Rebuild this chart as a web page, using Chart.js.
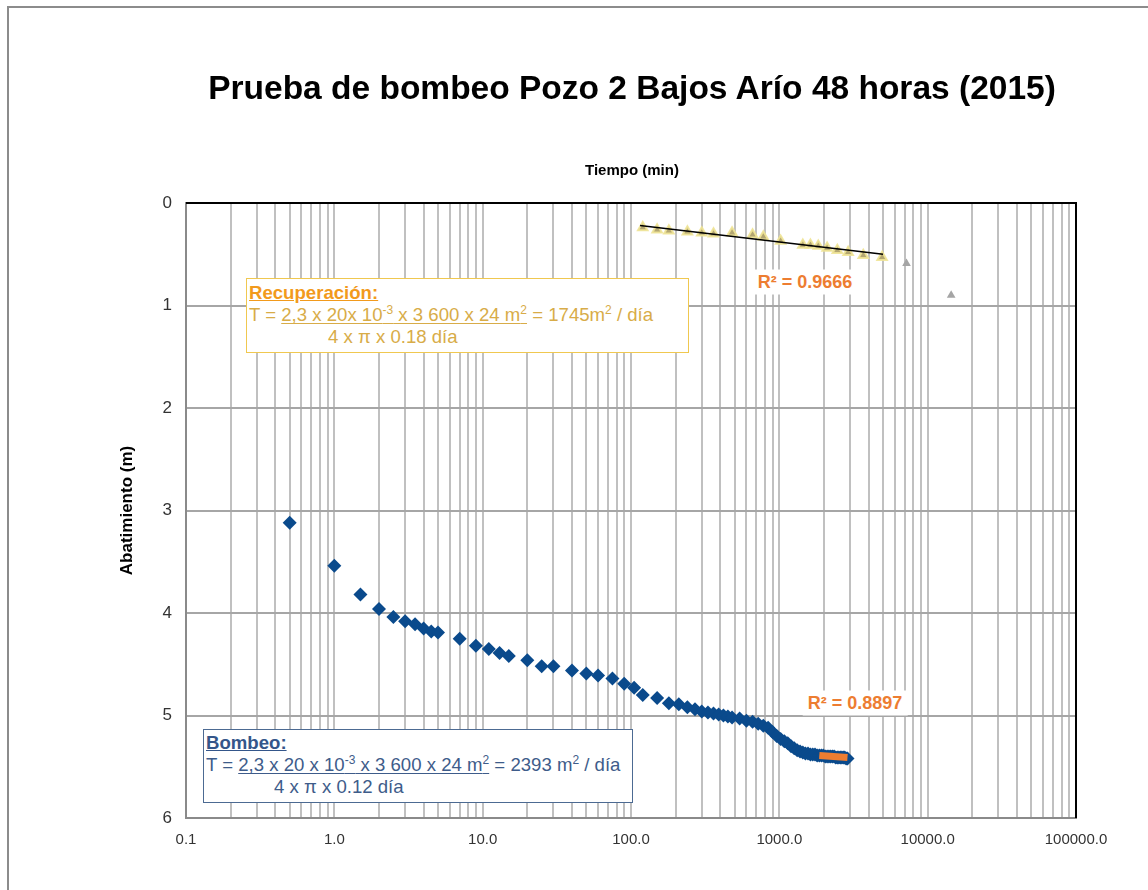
<!DOCTYPE html>
<html>
<head>
<meta charset="utf-8">
<script src="https://cdn.jsdelivr.net/npm/chart.js@4.4.0/dist/chart.umd.min.js"></script>
<style>
  html, body { margin:0; padding:0; background:#fff; }
  #wrap { position:relative; width:1148px; height:890px; overflow:hidden; font-family:"Liberation Sans", Arial, sans-serif; }
  #c { position:absolute; left:0; top:0; }
  .frame { position:absolute; left:7px; top:6px; width:1200px; height:1000px; border-left:2px solid #8c8c8c; border-top:2px solid #8c8c8c; pointer-events:none; }
  .ctitle { position:absolute; left:0; width:1264px; top:68px; text-align:center; font-size:33.5px; line-height:40px; font-weight:bold; color:#000; white-space:nowrap; }
  .xtitle { position:absolute; left:0; width:1264px; top:161px; text-align:center; font-size:15px; line-height:18px; font-weight:bold; color:#000; }
  .box { position:absolute; background:#fff; font-size:18.6px; line-height:22px; white-space:nowrap; }
  .box sup { font-size:12px; line-height:0; vertical-align:7px; }
  .box u { text-underline-offset:2px; }
  #rec { left:246px; top:278px; width:443px; height:75px; border:1.5px solid #F0C850; color:#D8AC48; padding:3px 0 0 2px; box-sizing:border-box; }
  #rec .ttl { color:#F29A1C; font-weight:bold; text-decoration:underline; }
  #bom { left:203px; top:729px; width:430px; height:74px; border:1.5px solid #4C6A92; color:#3E5C8A; padding:2px 0 0 2px; box-sizing:border-box; }
  #bom .ttl { color:#34568A; font-weight:bold; text-decoration:underline; }
  .r2 { position:absolute; color:#ED7D31; font-weight:bold; font-size:18px; background:#fff; padding:2px 5px; transform:translate(-50%,-50%); white-space:nowrap; }
</style>
</head>
<body>
<div id="wrap">
  <canvas id="c" width="1148" height="890"></canvas>
  <div class="frame"></div>
  <div class="ctitle">Prueba de bombeo Pozo 2 Bajos Arío 48 horas (2015)</div>
  <div class="xtitle">Tiempo (min)</div>
  <div id="rec" class="box">
    <div class="ttl">Recuperación:</div>
    <div>T = <u>2,3 x 20x 10<sup>-3</sup> x 3 600 x 24 m<sup>2</sup></u> = 1745m<sup>2</sup> / día</div>
    <div style="padding-left:79px">4 x π x 0.18 día</div>
  </div>
  <div id="bom" class="box">
    <div class="ttl">Bombeo:</div>
    <div>T = <u>2,3 x 20 x 10<sup>-3</sup> x 3 600 x 24 m<sup>2</sup></u> = 2393 m<sup>2</sup> / día</div>
    <div style="padding-left:68px">4 x π x 0.12 día</div>
  </div>
  <div class="r2" style="left:805px; top:282px;">R² = 0.9666</div>
  <div class="r2" style="left:855px; top:703px;">R² = 0.8897</div>
</div>
<script>
// ---- data ----
const bombeoTime = [0.5, 1, 1.5, 2, 2.5, 3, 3.5, 4, 4.5, 5, 7, 9, 11, 13, 15, 20, 25, 30, 40, 50, 60, 75, 90, 105, 120, 150, 180, 210,
  240, 270, 300, 330, 360, 390, 420, 450, 480, 540, 600, 660, 720, 780, 840, 900, 960, 1020, 1080, 1140, 1200, 1260, 1320, 1380,
  1440, 1500, 1560, 1620, 1680, 1740, 1800, 1860, 1920, 1980, 2040, 2100, 2160, 2220, 2280, 2340, 2400, 2460, 2520, 2580, 2640,
  2700, 2760, 2820, 2880];
const bombeoDrawdown = [3.12, 3.54, 3.82, 3.96, 4.04, 4.08, 4.11, 4.15, 4.18, 4.19, 4.25, 4.32, 4.35, 4.39, 4.42, 4.46, 4.52, 4.52, 4.56, 4.59, 4.61, 4.64, 4.69, 4.73, 4.80, 4.83, 4.88, 4.89,
  4.92, 4.94, 4.96, 4.97, 4.98, 4.99, 5.00, 5.01, 5.02, 5.03, 5.05, 5.06, 5.08, 5.10, 5.12, 5.16, 5.20, 5.23, 5.25, 5.27, 5.30, 5.32, 5.34, 5.35,
  5.36, 5.37, 5.37, 5.38, 5.38, 5.38, 5.39, 5.39, 5.39, 5.39, 5.40, 5.40, 5.40, 5.40, 5.40, 5.40, 5.41, 5.41, 5.41, 5.41, 5.41,
  5.41, 5.41, 5.42, 5.42];
const recTime = [120, 150, 180, 240, 300, 360, 480, 660, 780, 1020, 1440, 1620, 1830, 2100, 2460, 2910, 3680, 4930];
const recDrawdown = [0.24, 0.26, 0.27, 0.28, 0.29, 0.30, 0.29, 0.31, 0.33, 0.37, 0.41, 0.41, 0.42, 0.44, 0.46, 0.48, 0.51, 0.53];
const recExtraTime = [7200, 14400];
const recExtraDrawdown = [0.59, 0.90];
const recTrendTime = [115, 5000];
const recTrendDrawdown = [0.22, 0.50];
const bomTrendTime = [1860, 2880];
const bomTrendDrawdown = [5.39, 5.41];
const xTickDecades = [0.1, 1, 10, 100, 1000, 10000, 100000];
const yTicks = [0, 1, 2, 3, 4, 5, 6];

const pts = (xs, ys) => xs.map((x, i) => ({x: x, y: ys[i]}));

const frameLines = {
  id: 'frameLines',
  afterDatasetsDraw(chart) {
    const a = chart.chartArea, ctx = chart.ctx;
    ctx.save();
    ctx.strokeStyle = '#000';
    ctx.lineWidth = 2;
    ctx.beginPath();
    ctx.moveTo(a.left, a.top); ctx.lineTo(a.right, a.top); ctx.lineTo(a.right, a.bottom);
    ctx.stroke();
    ctx.restore();
  }
};

new Chart(document.getElementById('c'), {
  type: 'scatter',
  data: {
    datasets: [
      { label: 'trend rec', type: 'line', data: pts(recTrendTime, recTrendDrawdown), borderColor: '#000', borderWidth: 1.5, pointRadius: 0, fill: false, order: 0 },
      { label: 'trend bombeo', type: 'line', data: pts(bomTrendTime, bomTrendDrawdown), borderColor: '#ED7D31', borderWidth: 7, pointRadius: 0, fill: false, order: 1 },
      { label: 'Recuperación', data: pts(recTime, recDrawdown), pointStyle: 'triangle', pointRadius: 5.5, backgroundColor: '#B3A672', borderColor: 'rgba(240,228,150,0.9)', borderWidth: 2, order: 2 },
      { label: 'Recuperación 2', data: pts(recExtraTime, recExtraDrawdown), pointStyle: 'triangle', pointRadius: 5, backgroundColor: '#A5A5A5', borderColor: '#A5A5A5', borderWidth: 0, order: 3 },
      { label: 'Bombeo', data: pts(bombeoTime, bombeoDrawdown), pointStyle: 'rectRot', pointRadius: 7, backgroundColor: '#0A4A8C', borderColor: '#0A4A8C', borderWidth: 0, order: 4 }
    ]
  },
  options: {
    responsive: false,
    animation: false,
    layout: { padding: { left: 0, right: 72, top: 203, bottom: 0 } },
    plugins: {
      legend: { display: false },
      tooltip: { enabled: false }
    },
    scales: {
      x: {
        type: 'logarithmic', min: 0.1, max: 100000,
        afterBuildTicks(scale) {
          const t = [];
          for (let d = 0; d < xTickDecades.length; d++) {
            const base = xTickDecades[d];
            const lim = d === xTickDecades.length - 1 ? 1 : 9;
            for (let k = 1; k <= lim; k++) t.push({ value: base * k });
          }
          scale.ticks = t;
        },
        afterFit(scale) { scale.height = 72; },
        ticks: {
          autoSkip: false, maxRotation: 0, padding: 13, color: '#333',
          font: { family: '"Liberation Sans", Arial, sans-serif', size: 15 },
          callback(v) {
            const l = Math.log10(v);
            if (Math.abs(l - Math.round(l)) > 1e-9) return '';
            return Number(v).toFixed(1);
          }
        },
        grid: { color: '#C0C0C0', lineWidth: 2, drawTicks: false },
        border: { color: '#8a8a8a', width: 2 }
      },
      y: {
        reverse: true, min: 0, max: 6,
        afterBuildTicks(scale) { scale.ticks = yTicks.map(v => ({ value: v })); },
        afterFit(scale) { scale.width = 186; },
        ticks: { padding: 14, color: '#333', font: { family: '"Liberation Sans", Arial, sans-serif', size: 17 } },
        grid: { color: '#A6A6A6', lineWidth: 2, drawTicks: false },
        border: { color: '#8a8a8a', width: 2 },
        title: { display: true, text: 'Abatimiento (m)', color: '#000', padding: { top: 117, bottom: 0 },
          font: { family: '"Liberation Sans", Arial, sans-serif', size: 17, weight: 'bold' } }
      }
    }
  },
  plugins: [frameLines]
});
</script>
</body>
</html>
